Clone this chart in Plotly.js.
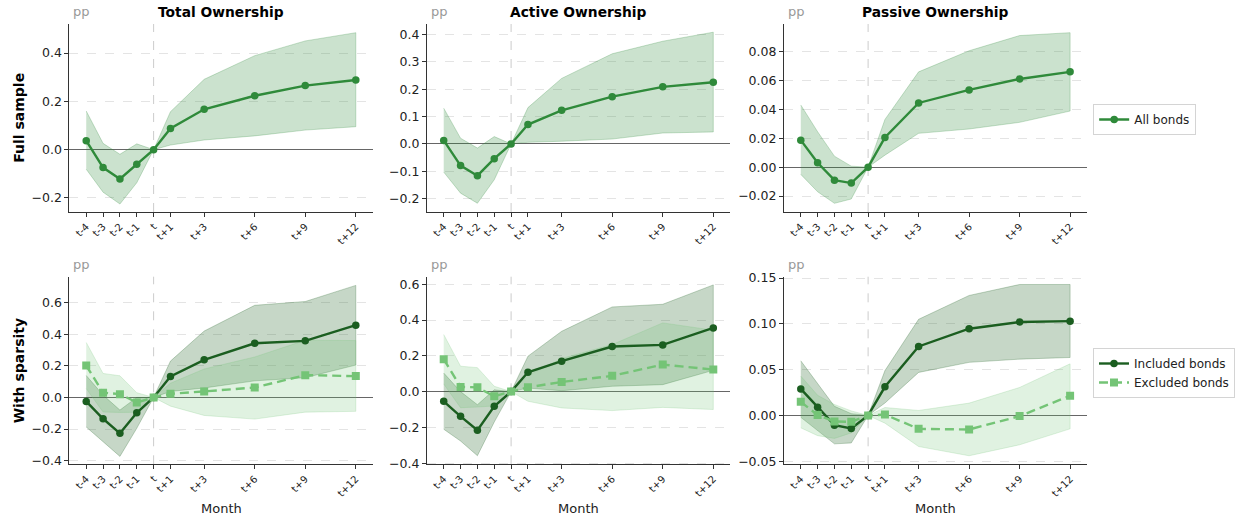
<!DOCTYPE html>
<html>
<head>
<meta charset="utf-8">
<script src="https://cdn.plot.ly/plotly-3.0.1.min.js"></script>
<style>
  html, body { margin: 0; padding: 0; background: #ffffff; }
  #chart { width: 1235px; height: 519px; }
</style>
</head>
<body>
<div id="chart"></div>
<script>
// Event-time axis (months relative to event month t)
const months = [-4, -3, -2, -1, 0, 1, 3, 6, 9, 12];
const monthLabels = ["t-4", "t-3", "t-2", "t-1", "t", "t+1", "t+3", "t+6", "t+9", "t+12"];

// Full sample: point estimates and confidence bands (pp)
const totalAll   = [0.037, -0.074, -0.121, -0.060, 0, 0.088, 0.167, 0.223, 0.265, 0.288];
const totalAllLo = [-0.081, -0.176, -0.225, -0.137, 0, 0.019, 0.040, 0.057, 0.081, 0.095];
const totalAllHi = [0.160, 0.026, -0.019, 0.024, 0, 0.157, 0.291, 0.389, 0.450, 0.484];

const activeAll   = [0.013, -0.079, -0.116, -0.054, 0, 0.071, 0.123, 0.173, 0.209, 0.226];
const activeAllLo = [-0.103, -0.180, -0.217, -0.131, 0, 0.006, 0.010, 0.018, 0.040, 0.044];
const activeAllHi = [0.131, 0.021, -0.015, 0.027, 0, 0.133, 0.240, 0.330, 0.376, 0.409];

const passiveAll   = [0.0187, 0.0030, -0.0090, -0.0110, 0, 0.0206, 0.0444, 0.0534, 0.0610, 0.0659];
const passiveAllLo = [-0.0050, -0.0170, -0.0250, -0.0220, 0, 0.0083, 0.0234, 0.0264, 0.0310, 0.0388];
const passiveAllHi = [0.0430, 0.0245, 0.0076, 0.0007, 0, 0.0330, 0.0659, 0.0805, 0.0910, 0.0930];

// With sparsity: included bonds
const totalInc   = [-0.025, -0.135, -0.227, -0.097, 0, 0.133, 0.238, 0.343, 0.358, 0.457];
const totalIncLo = [-0.187, -0.280, -0.373, -0.195, 0, 0.038, 0.060, 0.105, 0.125, 0.205];
const totalIncHi = [0.139, 0.015, -0.080, 0.000, 0, 0.230, 0.420, 0.583, 0.607, 0.709];

const activeInc   = [-0.054, -0.138, -0.216, -0.082, 0, 0.108, 0.170, 0.252, 0.261, 0.356];
const activeIncLo = [-0.210, -0.276, -0.358, -0.170, 0, 0.020, 0.005, 0.030, 0.039, 0.119];
const activeIncHi = [0.104, 0.000, -0.073, 0.010, 0, 0.198, 0.337, 0.473, 0.488, 0.596];

const passiveInc   = [0.0290, 0.0091, -0.0106, -0.0142, 0, 0.0313, 0.0754, 0.0947, 0.1020, 0.1030];
const passiveIncLo = [-0.0020, -0.0170, -0.0310, -0.0300, 0, 0.0136, 0.0470, 0.0580, 0.0615, 0.0633];
const passiveIncHi = [0.0597, 0.0350, 0.0100, 0.0020, 0, 0.0490, 0.1050, 0.1310, 0.1430, 0.1430];

// With sparsity: excluded bonds
const totalExc   = [0.202, 0.030, 0.021, -0.032, 0, 0.023, 0.038, 0.063, 0.141, 0.135];
const totalExcLo = [0.056, -0.092, -0.095, -0.094, 0, -0.055, -0.114, -0.137, -0.093, -0.088];
const totalExcHi = [0.348, 0.152, 0.137, 0.030, 0, 0.090, 0.180, 0.256, 0.362, 0.360];

const activeExc   = [0.181, 0.026, 0.024, -0.026, 0, 0.024, 0.054, 0.088, 0.151, 0.123];
const activeExcLo = [0.043, -0.090, -0.086, -0.080, 0, -0.054, -0.091, -0.106, -0.088, -0.100];
const activeExcHi = [0.319, 0.142, 0.134, 0.030, 0, 0.090, 0.185, 0.263, 0.384, 0.343];

const passiveExc   = [0.0149, 0.0005, -0.0066, -0.0069, 0, 0.0010, -0.0146, -0.0153, -0.0007, 0.0215];
const passiveExcLo = [-0.0135, -0.0220, -0.0250, -0.0190, 0, -0.0084, -0.0339, -0.0440, -0.0320, -0.0146];
const passiveExcHi = [0.0430, 0.0220, 0.0120, 0.0050, 0, 0.0087, 0.0055, 0.0135, 0.0306, 0.0564];

const panelTitles = ["Total Ownership", "Active Ownership", "Passive Ownership"];
const rowLabels = ["Full sample", "With sparsity"];

// Colours
const GREEN = "47,138,58";      // all bonds
const DARK = "27,94,32";        // included bonds
const LIGHT = "116,196,118";    // excluded bonds

const FONT = "DejaVu Sans";

function bandTrace(ax, lo, hi, rgb, alpha) {
  return {
    type: "scatter", mode: "lines",
    x: months.concat(months.slice().reverse()),
    y: lo.concat(hi.slice().reverse()),
    fill: "toself",
    fillcolor: `rgba(${rgb},${alpha})`,
    line: { color: `rgba(${rgb},${alpha})`, width: 1 },
    xaxis: "x" + ax, yaxis: "y" + ax,
    hoverinfo: "skip", showlegend: false
  };
}

function lineTrace(ax, y, rgb, name, opts) {
  return {
    type: "scatter", mode: "lines+markers",
    x: months, y: y, name: name,
    line: { color: `rgb(${rgb})`, width: 2.4, dash: opts.dash || "solid" },
    marker: { color: `rgb(${rgb})`, size: opts.size || 7.5, symbol: opts.symbol || "circle" },
    xaxis: "x" + ax, yaxis: "y" + ax,
    showlegend: !!opts.legend, legend: opts.legend || "legend"
  };
}

const traces = [
  bandTrace("", totalAllLo, totalAllHi, GREEN, 0.25),
  lineTrace("", totalAll, GREEN, "All bonds", { legend: "legend" }),
  bandTrace("2", activeAllLo, activeAllHi, GREEN, 0.25),
  lineTrace("2", activeAll, GREEN, "All bonds", {}),
  bandTrace("3", passiveAllLo, passiveAllHi, GREEN, 0.25),
  lineTrace("3", passiveAll, GREEN, "All bonds", {}),

  bandTrace("4", totalIncLo, totalIncHi, DARK, 0.25),
  bandTrace("4", totalExcLo, totalExcHi, LIGHT, 0.22),
  lineTrace("4", totalInc, DARK, "Included bonds", { legend: "legend2" }),
  lineTrace("4", totalExc, LIGHT, "Excluded bonds", { legend: "legend2", dash: "9px,5px", symbol: "square", size: 8 }),

  bandTrace("5", activeIncLo, activeIncHi, DARK, 0.25),
  bandTrace("5", activeExcLo, activeExcHi, LIGHT, 0.22),
  lineTrace("5", activeInc, DARK, "Included bonds", {}),
  lineTrace("5", activeExc, LIGHT, "Excluded bonds", { dash: "9px,5px", symbol: "square", size: 8 }),

  bandTrace("6", passiveIncLo, passiveIncHi, DARK, 0.25),
  bandTrace("6", passiveExcLo, passiveExcHi, LIGHT, 0.22),
  lineTrace("6", passiveInc, DARK, "Included bonds", {}),
  lineTrace("6", passiveExc, LIGHT, "Excluded bonds", { dash: "9px,5px", symbol: "square", size: 8 })
];

// Panel frame positions in pixels within the 1235x519 canvas
const W = 1235, H = 519;
const colPx = [[70, 376], [430.7, 736.7], [791, 1096.7]];
const rowPx = [[24, 212], [276.7, 464.3]];

const yRanges = [[-0.258, 0.52], [-0.249, 0.439], [-0.031, 0.099],
                 [-0.423, 0.764], [-0.406, 0.642], [-0.0533, 0.1515]];
const yDticks = [0.2, 0.1, 0.02, 0.2, 0.2, 0.05];
const yFormats = [".1f", ".1f", ".2f", ".1f", ".1f", ".2f"];

const layout = {
  width: W, height: H,
  margin: { l: 0, r: 0, t: 0, b: 0 },
  paper_bgcolor: "#ffffff", plot_bgcolor: "#ffffff",
  font: { family: FONT, color: "#222222" },
  shapes: [], annotations: [],
  legend: {
    x: 1103 / W, y: (H - 104) / H, xanchor: "left", yanchor: "top",
    bgcolor: "#ffffff", bordercolor: "#d4d4d4", borderwidth: 1,
    font: { family: FONT, size: 12, color: "#222" }
  },
  legend2: {
    x: 1103 / W, y: (H - 348) / H, xanchor: "left", yanchor: "top",
    bgcolor: "#ffffff", bordercolor: "#d4d4d4", borderwidth: 1,
    font: { family: FONT, size: 12, color: "#222" }
  }
};

for (let i = 0; i < 6; i++) {
  const r = Math.floor(i / 3), c = i % 3;
  const sfx = i === 0 ? "" : String(i + 1);
  layout["xaxis" + sfx] = {
    domain: [colPx[c][0] / W, colPx[c][1] / W],
    anchor: "y" + sfx,
    range: [-5, 13],
    tickmode: "array", tickvals: months, ticktext: monthLabels,
    tickangle: -45, tickfont: { family: FONT, size: 10, color: "#222" },
    ticks: "outside", ticklen: 4, tickcolor: "#333", tickwidth: 1,
    showline: true, linecolor: "#333", linewidth: 1,
    showgrid: false, zeroline: false, fixedrange: true
  };
  layout["yaxis" + sfx] = {
    domain: [(H - rowPx[r][1]) / H, (H - rowPx[r][0]) / H],
    anchor: "x" + sfx,
    range: yRanges[i], dtick: yDticks[i], tick0: 0, tickformat: yFormats[i],
    tickfont: { family: FONT, size: 12.5, color: "#222" },
    ticks: "outside", ticklen: 4, tickcolor: "#333", tickwidth: 1,
    showline: true, linecolor: "#333", linewidth: 1,
    showgrid: true, gridcolor: "#e4e4e4", griddash: "dash", gridwidth: 1,
    zeroline: true, zerolinecolor: "rgba(0,0,0,0.6)", zerolinewidth: 1,
    fixedrange: true
  };
  // event month marker
  layout.shapes.push({
    type: "line", xref: "x" + sfx, yref: "y" + sfx + " domain",
    x0: 0, x1: 0, y0: 0, y1: 1,
    line: { color: "#cccccc", width: 1, dash: "dash" }, layer: "below"
  });
  // unit label
  layout.annotations.push({
    text: "pp", showarrow: false,
    xref: "x" + sfx + " domain", x: 0, xanchor: "left", xshift: 2,
    yref: "paper", y: (H - (r === 0 ? 12 : 264)) / H, yanchor: "middle",
    font: { family: FONT, size: 13, color: "#999999" }
  });
  if (r === 0) {
    layout.annotations.push({
      text: panelTitles[c], showarrow: false,
      xref: "x" + sfx + " domain", x: 0.5, xanchor: "center",
      yref: "paper", y: (H - 12) / H, yanchor: "middle",
      font: { family: FONT, size: 13.8, color: "#000", weight: "bold" }
    });
  } else {
    layout.annotations.push({
      text: "Month", showarrow: false,
      xref: "x" + sfx + " domain", x: 0.5, xanchor: "center",
      yref: "paper", y: (H - 508) / H, yanchor: "middle",
      font: { family: FONT, size: 13, color: "#222" }
    });
  }
}

rowLabels.forEach((label, r) => {
  layout.annotations.push({
    text: label, showarrow: false, textangle: -90,
    xref: "paper", x: 19 / W, xanchor: "center",
    yref: "paper", y: (H - (rowPx[r][0] + rowPx[r][1]) / 2) / H, yanchor: "middle",
    font: { family: FONT, size: 14, color: "#000", weight: "bold" }
  });
});

Plotly.newPlot("chart", traces, layout, { staticPlot: true, displayModeBar: false });
</script>
</body>
</html>
